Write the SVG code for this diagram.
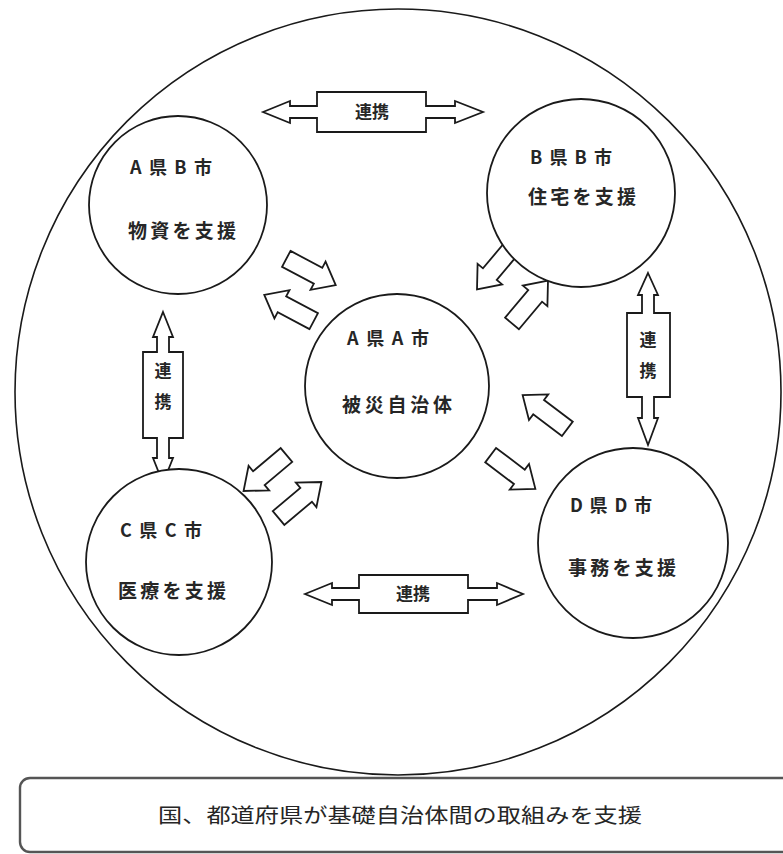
<svg xmlns="http://www.w3.org/2000/svg" width="783" height="854" viewBox="0 0 783 854">
<style>
.c{fill:#fff;stroke:#1a1a1a;stroke-width:1.8}
.big{fill:#fff;stroke:#1a1a1a;stroke-width:1.6}
.t{font-family:"Noto Sans CJK JP","Noto Sans CJK SC",sans-serif;fill:#262626;font-weight:bold}
.l1{font-size:18px}
.l2{font-size:19px}
.a{fill:#fff;stroke:#1a1a1a;stroke-width:1.8;stroke-linejoin:miter}
.k{font-size:17px}
</style>
<defs>
<polygon id="ba" points="-28,-9 8,-9 8,-16 28,0 8,16 8,9 -28,9"/>
</defs>
<rect width="783" height="854" fill="#fff"/>
<g id="outer"><circle class="big" cx="398" cy="392" r="383"/></g>
<g id="bottom">
<rect x="20" y="778" width="800" height="74" rx="10" fill="#fff" stroke="#555" stroke-width="2.4"/>
<text class="t" x="400" y="823" font-size="20" text-anchor="middle" textLength="484" lengthAdjust="spacingAndGlyphs" style="font-weight:normal">国、都道府県が基礎自治体間の取組みを支援</text>
</g>
<g id="connectors">
<g id="arrows" class="a">
<use href="#ba" transform="translate(311,272) rotate(28)"/>
<use href="#ba" transform="translate(289,308) rotate(208)"/>
<use href="#ba" transform="translate(495,268) rotate(130)"/>
<use href="#ba" transform="translate(530,302) rotate(-50)"/>
<use href="#ba" transform="translate(265,473) rotate(140)"/>
<use href="#ba" transform="translate(300,500) rotate(-40)"/>
<use href="#ba" transform="translate(545,412) rotate(217)"/>
<use href="#ba" transform="translate(513,472) rotate(37)"/>
</g>
<g id="link-top">
<polygon class="a" points="263,112 290,101 290,106 317,106 317,92 426,92 426,106 455,106 455,101 483,112 455,123 455,118 426,118 426,132 317,132 317,118 290,118 290,123"/>
<text class="t k" x="372" y="118" text-anchor="middle">連携</text>
</g>
<g id="link-bottom">
<polygon class="a" points="305,594 332,583 332,588 359,588 359,575 468,575 468,588 497,588 497,583 523,594 497,605 497,600 468,600 468,613 359,613 359,600 332,600 332,605"/>
<text class="t k" x="413" y="600" text-anchor="middle">連携</text>
</g>
<g id="link-left">
<polygon class="a" points="163,312 173,337 169,337 169,352 183,352 183,438 169,438 169,458 173,458 163,483 153,458 157,458 157,438 143,438 143,352 157,352 157,337 153,337"/>
<text class="t k" x="163" y="377" text-anchor="middle">連</text>
<text class="t k" x="163" y="408" text-anchor="middle">携</text>
</g>
<g id="link-right">
<polygon class="a" points="648,273 658,295 654,295 654,313 670,313 670,397 654,397 654,418 658,418 648,445 638,418 642,418 642,397 627,397 627,313 642,313 642,295 638,295"/>
<text class="t k" x="648" y="346" text-anchor="middle">連</text>
<text class="t k" x="648" y="377" text-anchor="middle">携</text>
</g>
</g>
<g id="node-ab">
<circle class="c" cx="178" cy="205" r="89"/>
<text class="t l1" x="130" y="174" textLength="82" lengthAdjust="spacing">A県B市</text>
<text class="t l2" x="128" y="238" textLength="108" lengthAdjust="spacing">物資を支援</text>
</g>
<g id="node-bb">
<circle class="c" cx="581" cy="193" r="94"/>
<text class="t l1" x="530" y="164" textLength="82" lengthAdjust="spacing">B県B市</text>
<text class="t l2" x="528" y="204" textLength="108" lengthAdjust="spacing">住宅を支援</text>
</g>
<g id="node-aa">
<circle class="c" cx="397" cy="386" r="92"/>
<text class="t l1" x="347" y="345" textLength="82" lengthAdjust="spacing">A県A市</text>
<text class="t l2" x="342" y="412" textLength="110" lengthAdjust="spacing">被災自治体</text>
</g>
<g id="node-cc">
<circle class="c" cx="179" cy="562" r="93"/>
<text class="t l1" x="120" y="537" textLength="82" lengthAdjust="spacing">C県C市</text>
<text class="t l2" x="118" y="598" textLength="108" lengthAdjust="spacing">医療を支援</text>
</g>
<g id="node-dd">
<circle class="c" cx="633" cy="543" r="95"/>
<text class="t l1" x="570" y="512" textLength="82" lengthAdjust="spacing">D県D市</text>
<text class="t l2" x="568" y="575" textLength="108" lengthAdjust="spacing">事務を支援</text>
</g>
</svg>
